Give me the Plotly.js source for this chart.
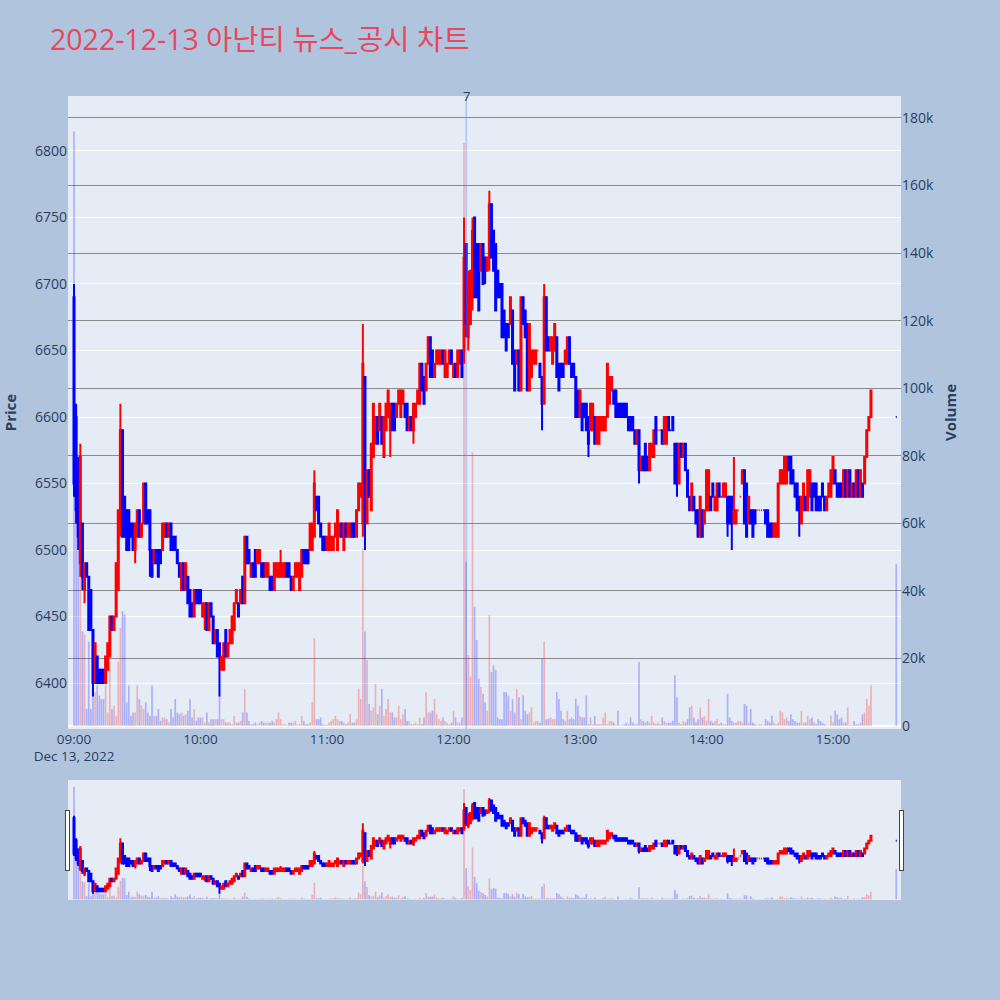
<!DOCTYPE html>
<html>
<head>
<meta charset="utf-8">
<script src="https://cdn.plot.ly/plotly-3.0.1.min.js"></script>
<style>html,body{margin:0;padding:0;background:#B0C4DE;}</style>
</head>
<body>
<div id="chart" style="width:1000px;height:1000px;"></div>
<script>
// ---- data: 1-minute candles 09:00..15:18 plus the 15:30 closing auction ----
const chartTitle = '2022-12-13 아난티 뉴스_공시 차트';
const tradeDate = '2022-12-13';
const sessionStart = '09:00';
const closingAuctionTime = '15:30';
const newsTime = '12:06';
const newsCount = '7';

const openP = [
6690,6600,6560,6490,6520,6470,6490,6480,6470,6440, 6400,6420,6410,6410,6410,6400,6410,6420,6450,6440,
6450,6470,6520,6590,6540,6530,6530,6520,6520,6500, 6510,6530,6510,6520,6550,6530,6530,6500,6490,6500,
6500,6500,6500,6510,6520,6510,6520,6510,6510,6500, 6490,6470,6490,6470,6480,6470,6460,6450,6470,6470,
6470,6450,6450,6460,6440,6460,6450,6430,6440,6430, 6410,6410,6440,6420,6430,6430,6440,6460,6460,6460,
6480,6460,6510,6500,6480,6490,6500,6490,6490,6490, 6490,6480,6480,6480,6480,6470,6480,6480,6480,6480,
6480,6490,6490,6480,6470,6480,6480,6470,6480,6500, 6500,6500,6500,6500,6510,6540,6540,6520,6510,6510,
6500,6500,6500,6500,6510,6500,6510,6520,6500,6520, 6510,6510,6520,6520,6510,6530,6540,6520,6630,6520,
6560,6530,6570,6580,6600,6590,6600,6570,6590,6600, 6590,6610,6610,6600,6610,6600,6610,6610,6610,6590,
6600,6590,6600,6610,6610,6640,6630,6620,6640,6660, 6650,6630,6640,6640,6640,6650,6630,6630,6640,6650,
6630,6640,6630,6640,6650,6650,6730,6660,6670,6690, 6750,6730,6730,6710,6730,6720,6710,6720,6760,6740,
6730,6710,6700,6700,6680,6670,6670,6670,6680,6650, 6640,6650,6620,6690,6680,6670,6620,6630,6640,6640,
6650,6640,6630,6610,6690,6660,6650,6640,6650,6660, 6640,6640,6640,6640,6640,6660,6640,6640,6630,6620,
6600,6610,6610,6610,6600,6590,6590,6600,6580,6580, 6590,6590,6590,6600,6610,6620,6620,6620,6610,6610,
6610,6610,6610,6600,6600,6600,6590,6580,6590,6560, 6570,6580,6570,6560,6570,6570,6600,6590,6590,6590,
6580,6580,6600,6590,6600,6580,6580,6550,6580,6570, 6580,6560,6540,6530,6540,6530,6530,6510,6530,6520,
6530,6530,6540,6550,6530,6530,6550,6540,6540,6540, 6540,6540,6540,6520,6520,6530,6540,6550,6560,6550,
6520,6530,6530,6530,6530,6530,6530,6530,6530,6530, 6520,6520,6510,6510,6510,6550,6550,6550,6550,6570,
6570,6560,6550,6550,6540,6520,6530,6540,6530,6540, 6550,6550,6550,6540,6540,6550,6540,6530,6540,6540,
6550,6560,6550,6550,6550,6540,6560,6540,6560,6540, 6550,6540,6560,6540,6550,6550,6570,6590,6600,
6600];
const highP = [
6700,6610,6570,6580,6520,6490,6490,6480,6470,6440, 6430,6420,6410,6410,6410,6420,6430,6450,6450,6450,
6490,6530,6610,6590,6540,6530,6530,6520,6520,6520, 6530,6530,6520,6550,6550,6530,6530,6500,6500,6500,
6500,6500,6520,6520,6520,6520,6520,6510,6510,6500, 6490,6490,6490,6490,6480,6470,6460,6470,6470,6470,
6470,6460,6460,6460,6460,6460,6450,6440,6440,6430, 6420,6430,6440,6430,6440,6450,6460,6470,6460,6470,
6480,6510,6510,6500,6490,6490,6500,6500,6500,6490, 6490,6490,6490,6480,6480,6490,6490,6490,6500,6490,
6490,6490,6490,6480,6480,6490,6490,6490,6500,6500, 6500,6500,6520,6520,6560,6540,6540,6520,6510,6510,
6510,6520,6510,6510,6520,6530,6520,6520,6520,6520, 6520,6520,6520,6520,6530,6550,6550,6670,6630,6560,
6560,6580,6610,6600,6600,6610,6600,6600,6610,6620, 6610,6610,6610,6610,6620,6620,6620,6610,6610,6600,
6600,6610,6610,6620,6640,6640,6630,6640,6660,6660, 6650,6640,6650,6650,6650,6650,6650,6640,6650,6650,
6640,6640,6650,6650,6650,6750,6730,6710,6710,6750, 6750,6730,6730,6730,6730,6720,6720,6770,6760,6740,
6730,6710,6700,6700,6680,6670,6670,6690,6680,6650, 6650,6650,6690,6690,6680,6670,6670,6650,6650,6650,
6650,6640,6630,6700,6690,6660,6660,6660,6670,6660, 6640,6640,6640,6650,6660,6660,6640,6640,6630,6620,
6620,6610,6610,6610,6600,6610,6610,6600,6600,6600, 6600,6600,6600,6640,6630,6630,6620,6620,6610,6610,
6610,6610,6610,6600,6600,6600,6590,6590,6590,6570, 6570,6580,6570,6580,6580,6590,6600,6590,6590,6590,
6600,6600,6600,6590,6600,6580,6580,6580,6580,6580, 6580,6560,6540,6550,6540,6530,6530,6540,6530,6530,
6560,6560,6540,6550,6540,6550,6550,6540,6550,6550, 6540,6540,6540,6570,6530,6530,6540,6560,6560,6550,
6540,6530,6530,6530,6530,6530,6530,6530,6530,6530, 6520,6520,6520,6520,6550,6560,6560,6570,6570,6570,
6570,6560,6550,6550,6540,6540,6550,6540,6560,6560, 6550,6550,6550,6540,6540,6550,6540,6540,6550,6560,
6570,6560,6550,6550,6550,6560,6560,6560,6560,6550, 6550,6560,6560,6560,6550,6570,6590,6600,6620,
6600];
const lowP = [
6540,6520,6500,6480,6470,6460,6480,6440,6440,6390, 6400,6400,6400,6400,6400,6400,6410,6420,6440,6440,
6450,6470,6510,6510,6510,6500,6500,6510,6500,6490, 6510,6510,6510,6520,6520,6520,6480,6480,6490,6490,
6480,6490,6500,6510,6510,6510,6500,6500,6500,6490, 6480,6470,6470,6470,6460,6450,6450,6450,6460,6460,
6460,6450,6440,6440,6440,6450,6430,6430,6420,6390, 6410,6410,6420,6420,6430,6430,6440,6460,6450,6460,
6460,6460,6490,6490,6480,6480,6480,6490,6490,6480, 6480,6480,6480,6470,6470,6470,6480,6480,6480,6480,
6480,6480,6480,6470,6470,6480,6480,6470,6480,6490, 6490,6490,6500,6500,6510,6530,6520,6510,6500,6500,
6500,6500,6500,6500,6510,6500,6510,6510,6500,6510, 6510,6510,6510,6510,6510,6530,6540,6510,6500,6520,
6540,6530,6570,6580,6580,6590,6580,6570,6590,6600, 6570,6590,6590,6600,6610,6600,6610,6600,6590,6590,
6590,6580,6600,6610,6610,6620,6610,6620,6640,6630, 6630,6630,6640,6640,6640,6640,6630,6630,6640,6640,
6630,6630,6630,6640,6630,6640,6660,6650,6670,6680, 6690,6690,6680,6710,6700,6700,6710,6710,6720,6710,
6680,6690,6690,6660,6660,6650,6660,6670,6640,6620, 6640,6620,6620,6670,6660,6620,6620,6630,6640,6640,
6650,6630,6590,6610,6650,6650,6650,6640,6650,6630, 6620,6630,6630,6640,6640,6640,6630,6630,6600,6600,
6600,6590,6600,6590,6570,6590,6590,6580,6580,6580, 6590,6590,6590,6600,6610,6620,6610,6600,6600,6600,
6600,6600,6600,6590,6590,6590,6580,6580,6550,6560, 6560,6560,6560,6560,6570,6570,6580,6590,6590,6580,
6580,6580,6590,6590,6590,6550,6540,6550,6570,6570, 6560,6540,6530,6530,6530,6520,6510,6510,6510,6520,
6530,6530,6530,6540,6530,6530,6540,6540,6540,6540, 6510,6520,6500,6520,6520,6530,6540,6550,6520,6510,
6520,6520,6510,6520,6530,6530,6530,6530,6520,6510, 6510,6510,6510,6510,6510,6550,6550,6550,6550,6560,
6550,6550,6540,6530,6510,6520,6530,6530,6530,6540, 6530,6540,6530,6530,6530,6540,6530,6530,6540,6540,
6550,6550,6540,6540,6540,6540,6540,6540,6540,6540, 6540,6540,6540,6540,6540,6550,6570,6590,6600,
6600];
const closeP = [
6550,6530,6510,6570,6480,6490,6480,6440,6440,6400, 6430,6400,6400,6400,6400,6420,6430,6450,6440,6450,
6490,6530,6590,6510,6510,6500,6500,6510,6500,6520, 6530,6510,6520,6550,6520,6520,6500,6480,6500,6490,
6480,6490,6520,6520,6510,6520,6500,6500,6500,6490, 6480,6490,6470,6490,6460,6450,6450,6470,6460,6460,
6460,6460,6460,6440,6460,6450,6430,6440,6420,6420, 6420,6430,6420,6430,6440,6450,6460,6470,6450,6470,
6460,6510,6490,6490,6490,6480,6480,6500,6500,6480, 6480,6490,6490,6470,6470,6490,6490,6490,6490,6490,
6490,6480,6480,6470,6480,6490,6490,6490,6500,6490, 6490,6490,6520,6520,6550,6530,6520,6510,6500,6500,
6510,6520,6510,6510,6520,6530,6520,6510,6520,6510, 6520,6520,6510,6510,6530,6550,6550,6640,6550,6560,
6540,6580,6610,6600,6580,6610,6580,6600,6610,6620, 6610,6590,6590,6610,6620,6620,6620,6600,6590,6600,
6590,6610,6610,6620,6640,6620,6610,6640,6660,6630, 6630,6640,6650,6650,6650,6640,6650,6640,6650,6640,
6640,6630,6650,6650,6630,6720,6670,6700,6710,6740, 6690,6690,6680,6730,6700,6710,6720,6760,6720,6710,
6680,6690,6690,6660,6660,6650,6660,6690,6640,6620, 6650,6620,6690,6670,6660,6620,6670,6650,6650,6650,
6650,6630,6610,6690,6650,6650,6660,6660,6670,6630, 6620,6630,6630,6650,6660,6640,6630,6630,6600,6600,
6620,6590,6600,6590,6580,6610,6610,6580,6600,6600, 6600,6600,6600,6640,6630,6630,6610,6600,6600,6600,
6600,6600,6600,6590,6590,6590,6580,6590,6560,6570, 6560,6560,6560,6580,6580,6590,6580,6590,6590,6580,
6600,6600,6590,6590,6590,6550,6550,6580,6570,6580, 6560,6540,6530,6550,6530,6520,6510,6540,6510,6530,
6560,6560,6530,6540,6540,6550,6540,6540,6550,6550, 6520,6520,6520,6530,6530,6530,6540,6560,6520,6510,
6540,6520,6510,6520,6530,6530,6530,6530,6520,6510, 6510,6510,6520,6520,6550,6560,6560,6570,6570,6560,
6550,6550,6540,6530,6530,6540,6550,6530,6560,6560, 6530,6540,6530,6530,6530,6540,6530,6540,6550,6560,
6570,6550,6540,6540,6540,6560,6540,6560,6540,6550, 6540,6560,6540,6560,6540,6570,6590,6600,6620,
6600];
const volume = [
176000,95000,80000,60000,28000,27000,5000,25000,5000,16000, 10000,12000,9000,8000,8000,12000,4000,19000,5000,6000,
3000,19000,29000,34000,33000,7000,12000,3000,4000,4000, 12000,8000,6000,5000,7000,4000,3000,12000,3000,3000,
5000,1500,2500,2500,2000,1000,5000,2500,8000,4000, 3500,4000,3000,3500,4500,8000,2500,5000,1500,2500,
2500,2500,1000,4000,1000,2000,2000,2000,2000,9000, 2000,2000,1000,1000,1000,500,3000,1000,1000,1500,
4000,11000,4000,1500,500,500,1000,500,1000,1500, 1000,1000,1000,1000,1500,1000,2000,4000,2000,500,
500,200,1000,1000,1000,1500,500,500,3000,1500, 500,500,1000,7000,26000,2000,2000,2500,500,300,
300,1000,1500,2000,3000,2000,1500,1500,1000,500, 1000,3500,1000,1000,2000,11000,8000,52500,28000,19500,
6500,4500,5500,12500,3500,6000,11000,3000,5000,8000, 4000,4000,2500,2500,6000,2000,3500,5000,1500,1500,
500,500,1000,500,2500,500,2500,10000,4000,4000, 4500,8000,3500,2000,1500,2500,1500,1000,500,1000,
4500,2500,1000,1000,2500,172600,48600,21000,14700,81000, 35300,25500,14000,11500,9500,7000,4500,32900,16000,18000,
16500,2500,2000,2000,10000,10000,9000,4500,8000,4000, 11000,8500,2000,9000,4500,3500,4000,5500,1000,1500,
1500,1000,20000,25000,2000,2000,2500,2000,2000,10000, 8000,4500,2000,1500,4500,2000,2500,2000,8000,6000,
3000,2500,2500,9000,500,2500,500,3000,500,500, 500,2500,4000,500,1500,1500,1000,200,4500,200,
200,500,1000,500,2500,1000,500,500,19000,2000, 1500,1000,1500,1000,3000,1000,500,1000,500,2500,
1500,1000,1000,1000,1500,15000,8500,1000,500,1500, 1000,2000,5500,6000,2500,1000,2000,5500,2500,3000,
1500,8000,1500,1000,1500,2000,500,1000,500,500, 9500,2500,1500,1000,1000,1500,1500,1000,6500,6000,
1000,5000,1000,500,200,500,500,200,2000,1500, 1000,3000,1000,500,1000,4500,4000,2000,2500,1500,
3500,2000,1500,1000,1000,4500,1000,1000,3000,2000, 2500,1000,500,2000,1500,1000,500,200,200,3000,
1000,4500,3500,2000,2500,1000,1000,5500,200,200, 1500,500,500,1000,3500,4000,8000,6000,12000,
48000];

// ---- build the time axis (one minute per regular candle, last one is the closing auction) ----
function stamp(hm){ return tradeDate + ' ' + hm; }
const [h0, m0] = sessionStart.split(':').map(Number);
const times = openP.map((_, i) => {
  if (i === openP.length - 1) return stamp(closingAuctionTime);
  const t = h0 * 60 + m0 + i;
  return stamp(String(Math.floor(t / 60)).padStart(2, '0') + ':' + String(t % 60).padStart(2, '0'));
});

// direction of each candle, same rule as the candlestick trace
const UP = 'rgba(255,0,0,0.25)', DOWN = 'rgba(0,0,255,0.25)';
let inc = true;
const volColors = closeP.map((c, i) => {
  const o = openP[i];
  if (c !== o) inc = c > o;
  else if (i > 0 && c !== closeP[i - 1]) inc = c > closeP[i - 1];
  return inc ? UP : DOWN;
});

const volumeTrace = {
  type: 'bar', x: times, y: volume, yaxis: 'y', name: 'Volume',
  marker: { color: volColors, line: { width: 0 } }, showlegend: false
};
const candleTrace = {
  type: 'candlestick', x: times, open: openP, high: highP, low: lowP, close: closeP,
  yaxis: 'y2', name: 'Price', showlegend: false,
  increasing: { line: { color: 'red', width: 2 }, fillcolor: 'red' },
  decreasing: { line: { color: 'blue', width: 2 }, fillcolor: 'blue' }
};

const layout = {
  width: 1000, height: 1000,
  paper_bgcolor: '#B0C4DE', plot_bgcolor: '#E5ECF6',
  font: { family: '"Open Sans", verdana, arial, "Noto Sans CJK KR", sans-serif', size: 14, color: '#2a3f5f' },
  title: { text: chartTitle, x: 0.05, xanchor: 'left', y: 0.96, yanchor: 'middle',
           font: { size: 28.5, color: '#E8475E', family: '"Open Sans", "Noto Sans CJK KR", sans-serif' } },
  margin: { l: 68, r: 99, t: 96, b: 100 },
  showlegend: false,
  bargap: 0.2,
  xaxis: {
    type: 'date', showgrid: false, zeroline: false,
    range: [stamp('08:57:09'), stamp('15:32:15')],
    tickfont: { size: 13.5 },
    rangeslider: { visible: true, thickness: 0.149, bgcolor: '#E5ECF6', borderwidth: 0 }
  },
  yaxis: {
    side: 'right', range: [-900, 186500], dtick: 20000, showgrid: true,
    gridcolor: '#8a8a8a', gridwidth: 1, zeroline: true, zerolinecolor: 'white', zerolinewidth: 2,
    title: { text: '<b>Volume</b>', font: { size: 15 }, standoff: 12 }, tickfont: { size: 14 }
  },
  yaxis2: {
    overlaying: 'y', side: 'left', range: [6365.5, 6841.3], dtick: 50,
    showgrid: true, gridcolor: 'white', gridwidth: 1, zeroline: false,
    title: { text: '<b>Price</b>', font: { size: 15 }, standoff: 18 }, tickfont: { size: 14 }
  },
  shapes: [{
    type: 'line', xref: 'x', yref: 'paper', x0: stamp(newsTime), x1: stamp(newsTime), y0: 0, y1: 1,
    line: { color: 'rgba(90,130,240,0.6)', width: 1 }
  }],
  annotations: [{
    xref: 'x', yref: 'paper', x: stamp(newsTime), y: 1, text: newsCount, showarrow: false,
    xanchor: 'center', yanchor: 'middle', font: { size: 13, color: '#2a3f5f' }
  }]
};

Plotly.newPlot('chart', [volumeTrace, candleTrace], layout, { staticPlot: true, displayModeBar: false });
</script>
</body>
</html>
